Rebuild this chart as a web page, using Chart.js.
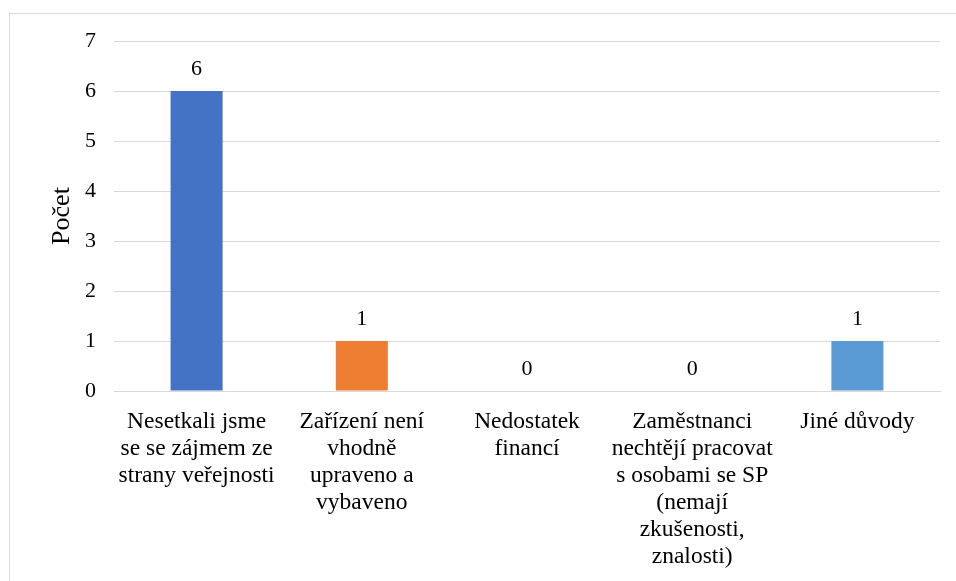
<!DOCTYPE html>
<html>
<head>
<meta charset="utf-8">
<script src="https://cdn.jsdelivr.net/npm/chart.js@4.4.1/dist/chart.umd.min.js"></script>
<style>
  body { margin: 0; background: #fff; font-family: 'Liberation Serif', serif; }
  #frame { position: absolute; left: 9px; top: 13px; width: 1000px; height: 620px; border: 1px solid #d9d9d9; }
  #wrap { position: absolute; left: 0; top: 0; width: 956px; height: 581px; }
</style>
</head>
<body>
<div id="frame"></div>
<div id="wrap"><canvas id="myChart"></canvas></div>
<script>
// categories (wrapped the same way as the original)
const categories = [
    ['Nesetkali jsme', 'se se zájmem ze', 'strany veřejnosti'],
    ['Zařízení není', 'vhodně', 'upraveno a', 'vybaveno'],
    ['Nedostatek', 'financí'],
    ['Zaměstnanci', 'nechtějí pracovat', 's osobami se SP', '(nemají', 'zkušenosti,', 'znalosti)'],
    ['Jiné důvody']
]
const counts = [6, 1, 0, 0, 1]
const barColors = ['#4472C4', '#ED7D31', '#A5A5A5', '#FFC000', '#5B9BD5']
const yTicks = [0, 1, 2, 3, 4, 5, 6, 7]

const serif = '"Liberation Serif", "Times New Roman", "DejaVu Serif", serif'

// value labels above the bars
const valueLabels = {
    id: 'valueLabels',
    afterDatasetsDraw(chart) {
        const ctx = chart.ctx
        const meta = chart.getDatasetMeta(0)
        ctx.save()
        ctx.font = '22px ' + serif
        ctx.fillStyle = '#000'
        ctx.textAlign = 'center'
        ctx.textBaseline = 'bottom'
        meta.data.forEach((bar, i) => {
            ctx.fillText(String(counts[i]), bar.x, bar.y - 11)
        })
        ctx.restore()
    }
}

function drawChart() {
    const ctx = document.getElementById('myChart').getContext('2d')

    new Chart(ctx, {
        type: 'bar',
        data: {
            labels: categories,
            datasets: [{
                label: 'Počet',
                data: counts,
                backgroundColor: barColors,
                borderWidth: 0,
                barPercentage: 0.63,
                categoryPercentage: 0.5
            }]
        },
        options: {
            responsive: true,
            maintainAspectRatio: false,
            animation: false,
            layout: { padding: { top: 41, right: 16, left: 0, bottom: 0 } },
            plugins: {
                legend: { display: false },
                tooltip: { enabled: false }
            },
            scales: {
                x: {
                    grid: { display: false },
                    border: { color: '#d9d9d9', width: 1 },
                    ticks: {
                        color: '#000',
                        font: { family: serif, size: 23.5, lineHeight: 1.15 },
                        maxRotation: 0,
                        autoSkip: false,
                        padding: 9
                    },
                    afterFit: (scale) => { scale.height = 190 }
                },
                y: {
                    min: 0,
                    max: 7,
                    afterBuildTicks: (scale) => { scale.ticks = yTicks.map(v => ({ value: v })) },
                    grid: { color: '#d9d9d9', lineWidth: 1, drawTicks: false },
                    border: { display: false },
                    ticks: {
                        color: '#000',
                        font: { family: serif, size: 22 },
                        padding: 18
                    },
                    title: {
                        display: true,
                        text: 'Počet',
                        color: '#000',
                        font: { family: serif, size: 26 },
                        padding: { top: 47, bottom: 0 }
                    },
                    afterFit: (scale) => { scale.width = 114 }
                }
            }
        },
        plugins: [valueLabels]
    })
}

// wait for the serif face before drawing on the canvas
Promise.all([
    document.fonts.load('22px "Liberation Serif"'),
    document.fonts.load('26px "Liberation Serif"')
]).then(drawChart, drawChart)
</script>
</body>
</html>
